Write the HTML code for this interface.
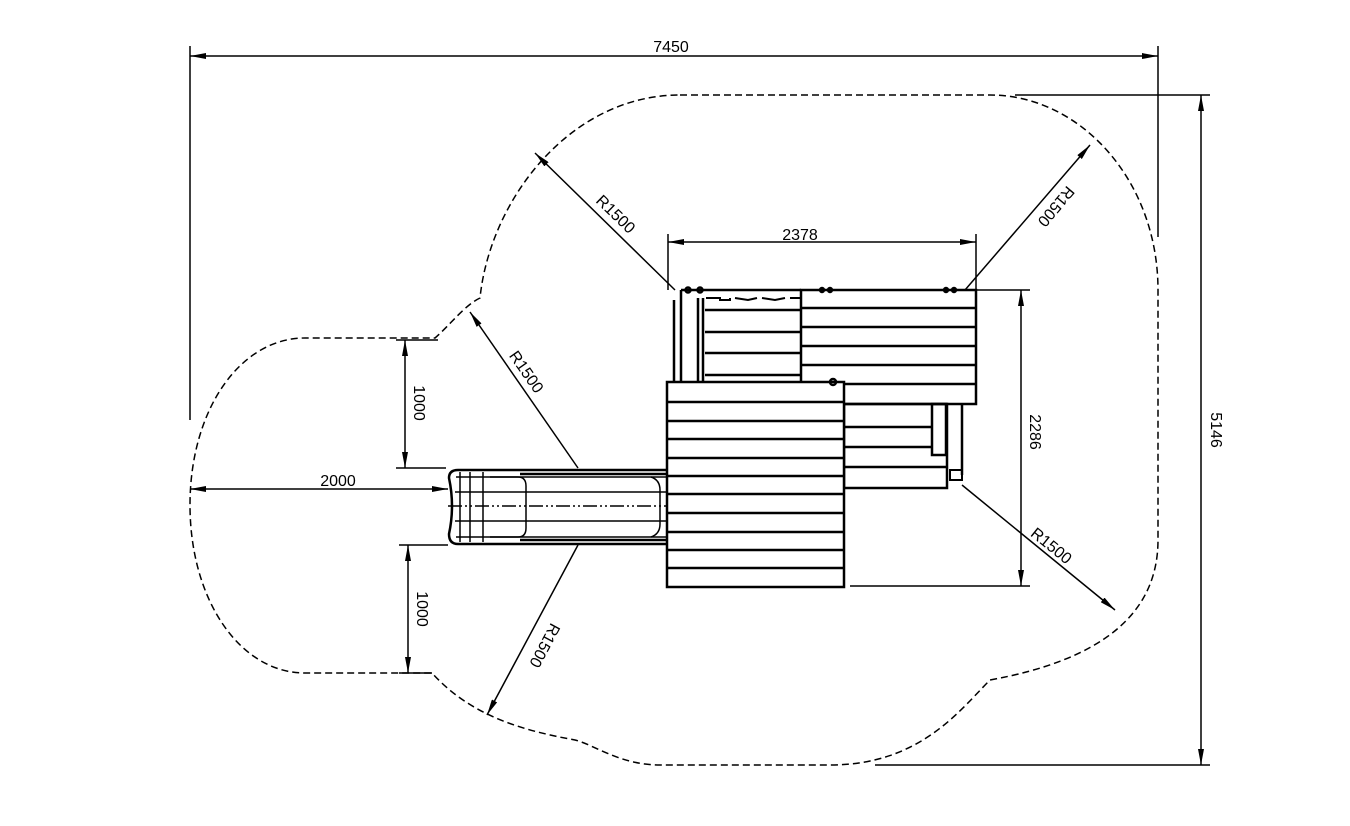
<!DOCTYPE html>
<html><head><meta charset="utf-8"><style>
html,body{margin:0;padding:0;background:#fff;}
svg{display:block;}
text{font-family:"Liberation Sans",sans-serif;font-size:16px;fill:#000;}
</style></head><body>
<svg width="1350" height="826" viewBox="0 0 1350 826" xmlns="http://www.w3.org/2000/svg">
<defs>
<marker id="a" viewBox="0 0 16 6" refX="16" refY="3" markerWidth="16" markerHeight="6" markerUnits="userSpaceOnUse" orient="auto-start-reverse"><path d="M0,0 L16,3 L0,6 Z" fill="#000"/></marker>
</defs>
<g fill="none" stroke="#000">
<path stroke-width="1.5" stroke-dasharray="7,4" d="M680 95 L990 95 C1080 95 1158 180 1158 290 L1158 540 C1158 615 1100 660 990 680 C960 710 920 765 830 765 L660 765 C620 765 595 745 575 740 C520 730 470 715 432 673 L305 673 C240 673 190 600 190 505 C190 410 240 338 305 338 L435 338 C450 325 465 305 480 298 C490 200 570 95 680 95 Z"/>

<g stroke-width="1.5">
<line x1="190" y1="46" x2="190" y2="420"/>
<line x1="1158" y1="46" x2="1158" y2="237"/>
<line x1="190" y1="56" x2="1158" y2="56" marker-start="url(#a)" marker-end="url(#a)"/>
<line x1="1015" y1="95" x2="1210" y2="95"/>
<line x1="875" y1="765" x2="1210" y2="765"/>
<line x1="1201" y1="95" x2="1201" y2="765" marker-start="url(#a)" marker-end="url(#a)"/>
<line x1="668" y1="234" x2="668" y2="290"/>
<line x1="976" y1="234" x2="976" y2="290"/>
<line x1="668" y1="242" x2="976" y2="242" marker-start="url(#a)" marker-end="url(#a)"/>
<line x1="976" y1="290" x2="1030" y2="290"/>
<line x1="850" y1="586" x2="1030" y2="586"/>
<line x1="1021" y1="290" x2="1021" y2="586" marker-start="url(#a)" marker-end="url(#a)"/>
<line x1="190" y1="489" x2="448" y2="489" marker-start="url(#a)" marker-end="url(#a)"/>
<line x1="396" y1="340" x2="438" y2="340"/>
<line x1="396" y1="468" x2="446" y2="468"/>
<line x1="405" y1="340" x2="405" y2="468" marker-start="url(#a)" marker-end="url(#a)"/>
<line x1="399" y1="545" x2="448" y2="545"/>
<line x1="399" y1="673" x2="432" y2="673"/>
<line x1="408" y1="545" x2="408" y2="673" marker-start="url(#a)" marker-end="url(#a)"/>
<line x1="675" y1="290" x2="535" y2="153" marker-end="url(#a)"/>
<line x1="965" y1="290" x2="1090" y2="145" marker-end="url(#a)"/>
<line x1="578" y1="468" x2="470" y2="312" marker-end="url(#a)"/>
<line x1="578" y1="545" x2="487" y2="715" marker-end="url(#a)"/>
<line x1="962" y1="485" x2="1115" y2="610" marker-end="url(#a)"/>
</g>

<g stroke-width="2.5">
<rect x="801" y="290" width="175" height="114" fill="#fff"/>
<line x1="801" y1="308" x2="976" y2="308"/>
<line x1="801" y1="327" x2="976" y2="327"/>
<line x1="801" y1="346" x2="976" y2="346"/>
<line x1="801" y1="365" x2="976" y2="365"/>
<line x1="844" y1="384" x2="976" y2="384"/>
<line x1="681" y1="290" x2="801" y2="290"/>
<line x1="681" y1="290" x2="681" y2="382"/>
<line x1="674" y1="300" x2="674" y2="382"/>
<line x1="698" y1="298" x2="698" y2="382"/>
<line x1="703" y1="298" x2="703" y2="382"/>
<line x1="705" y1="310" x2="801" y2="310"/>
<line x1="705" y1="332" x2="801" y2="332"/>
<line x1="705" y1="353" x2="801" y2="353"/>
<line x1="705" y1="375" x2="801" y2="375"/>
<path d="M706 298 L720 298 L720 300 L730 300 L730 298 M735 298 L748 300 L757 298 M762 298 L775 300 L785 298 M790 298 L801 298" stroke-width="2"/>
<circle cx="688" cy="290" r="2.5"/><circle cx="700" cy="290" r="2.5"/>
<circle cx="822" cy="290" r="2"/><circle cx="830" cy="290" r="2"/>
<circle cx="946" cy="290" r="2"/><circle cx="954" cy="290" r="2"/>
<rect x="844" y="404" width="103" height="84"/>
<line x1="844" y1="427" x2="932" y2="427"/>
<line x1="844" y1="447" x2="932" y2="447"/>
<line x1="844" y1="467" x2="947" y2="467"/>
<rect x="932" y="404" width="14" height="51"/>
<line x1="962" y1="404" x2="962" y2="475"/>
<rect x="950" y="470" width="12" height="10" stroke-width="2"/>
<rect x="667" y="382" width="177" height="205" fill="#fff"/>
<line x1="667" y1="402" x2="844" y2="402"/>
<line x1="667" y1="421" x2="844" y2="421"/>
<line x1="667" y1="439" x2="844" y2="439"/>
<line x1="667" y1="458" x2="844" y2="458"/>
<line x1="667" y1="476" x2="844" y2="476"/>
<line x1="667" y1="494" x2="844" y2="494"/>
<line x1="667" y1="513" x2="844" y2="513"/>
<line x1="667" y1="532" x2="844" y2="532"/>
<line x1="667" y1="550" x2="844" y2="550"/>
<line x1="667" y1="568" x2="844" y2="568"/>
<circle cx="833" cy="382" r="3"/>
</g>
<g stroke-width="1.5">
<path d="M667 470 L458 470 Q449 470 449 478 Q455 506 449 534 Q449 544 458 544 L667 544" stroke-width="2.5"/>
<line x1="456" y1="477" x2="667" y2="477"/>
<line x1="456" y1="537" x2="667" y2="537"/>
<line x1="520" y1="474" x2="667" y2="474" stroke-width="2.5"/>
<line x1="520" y1="540" x2="667" y2="540" stroke-width="2.5"/>
<line x1="455" y1="492" x2="667" y2="492"/>
<line x1="455" y1="521" x2="667" y2="521"/>
<line x1="460" y1="472" x2="460" y2="542"/>
<line x1="470" y1="472" x2="470" y2="542"/>
<line x1="483" y1="472" x2="483" y2="542"/>
<path d="M490 477 L518 477 Q526 477 526 486 L526 528 Q526 537 518 537 L490 537"/>
<path d="M651 477 Q660 480 660 490 L660 524 Q660 534 651 537"/>
<line x1="448" y1="506" x2="667" y2="506" stroke-dasharray="14,3,2,3,2,3"/>
</g>
</g>

<text x="671" y="52" text-anchor="middle">7450</text>
<text x="800" y="240" text-anchor="middle">2378</text>
<text x="338" y="486" text-anchor="middle">2000</text>
<text transform="translate(1211,430) rotate(90)" text-anchor="middle">5146</text>
<text transform="translate(1030,432) rotate(90)" text-anchor="middle">2286</text>
<text transform="translate(414,403) rotate(90)" text-anchor="middle">1000</text>
<text transform="translate(417,609) rotate(90)" text-anchor="middle">1000</text>
<text transform="translate(612,218) rotate(44)" text-anchor="middle">R1500</text>
<text transform="translate(1052,203) rotate(130)" text-anchor="middle">R1500</text>
<text transform="translate(522,375) rotate(55)" text-anchor="middle">R1500</text>
<text transform="translate(540,643) rotate(118)" text-anchor="middle">R1500</text>
<text transform="translate(1048,550) rotate(39)" text-anchor="middle">R1500</text>
</svg>
</body></html>
